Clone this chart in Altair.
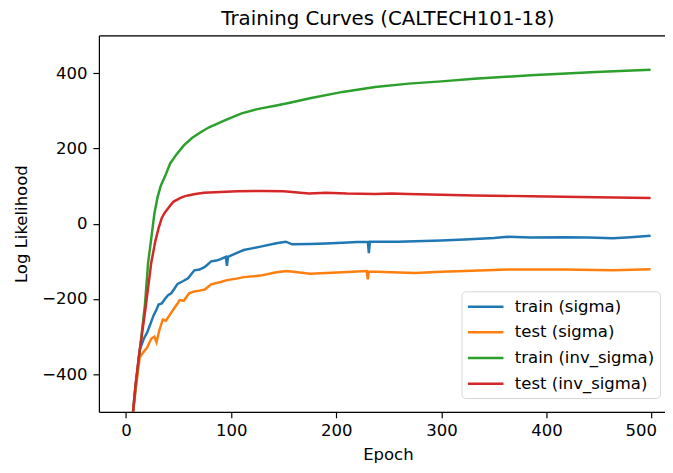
import altair as alt
import pandas as pd

series_names = ["train (sigma)", "test (sigma)", "train (inv_sigma)", "test (inv_sigma)"]
series_colors = ["#1f77b4", "#ff7f0e", "#2ca02c", "#d62728"]

train_sigma_epoch = [6, 9, 13, 17, 20, 23, 26, 29, 31, 34, 37, 40, 43, 46, 49, 54, 59, 65, 70, 75,
                     81, 86, 90, 95, 96, 97, 105, 112, 121, 128, 143, 152, 158, 175, 190, 206, 220,
                     230, 231, 232, 259, 275, 300, 322, 350, 363, 385, 416, 440, 463, 480, 499]
train_sigma_value = [-520, -440, -335, -305, -290, -268, -245, -228, -215, -212, -200, -190, -185,
                     -173, -160, -153, -145, -124, -122, -115, -100, -98, -94, -88, -112, -88, -78,
                     -70, -65, -61, -52, -48, -55, -54, -53, -51, -49, -48, -78, -48, -48, -47, -45,
                     -42, -38, -35, -37, -36, -37, -39, -36, -32]

test_sigma_epoch = [6, 9, 13, 17, 20, 24, 27, 29, 32, 35, 38, 41, 45, 49, 51, 55, 60, 65, 70, 75,
                    81, 90, 96, 105, 112, 121, 128, 143, 153, 175, 206, 229, 230, 231, 275, 300,
                    322, 363, 416, 463, 499]
test_sigma_value = [-520, -445, -355, -340, -330, -306, -300, -315, -280, -255, -258, -245, -228,
                    -212, -203, -205, -185, -180, -178, -175, -161, -155, -150, -146, -142, -140,
                    -138, -129, -126, -133, -129, -126, -148, -127, -131, -128, -126, -122, -122,
                    -124, -121]

train_inv_epoch = [6, 9, 13, 18, 21, 24, 27, 30, 33, 37, 42, 48, 55, 63, 71, 79, 95, 110, 126,
                   143, 157, 175, 206, 237, 269, 300, 331, 385, 447, 499]
train_inv_value = [-520, -430, -340, -215, -104, -40, 27, 70, 100, 125, 160, 184, 208, 228, 243,
                   256, 276, 293, 305, 314, 322, 333, 350, 363, 372, 378, 385, 394, 403, 409]

test_inv_epoch = [6, 9, 12, 18, 24, 28, 31, 34, 37, 41, 45, 50, 54, 59, 66, 74, 90, 106, 130, 150,
                  174, 190, 210, 237, 253, 268, 300, 331, 385, 447, 499]
test_inv_value = [-520, -430, -358, -236, -104, -45, -12, 15, 30, 44, 58, 66, 71, 75, 79, 82, 84,
                  86, 87, 86, 80, 82, 80, 79, 80, 79, 77, 75, 73, 70, 68]

x_ticks = [0, 100, 200, 300, 400, 500]
y_ticks = [-400, -200, 0, 200, 400]

rows = []
for name, ep, val in [
    (series_names[0], train_sigma_epoch, train_sigma_value),
    (series_names[1], test_sigma_epoch, test_sigma_value),
    (series_names[2], train_inv_epoch, train_inv_value),
    (series_names[3], test_inv_epoch, test_inv_value),
]:
    for i, (e, v) in enumerate(zip(ep, val)):
        rows.append({"series": name, "epoch": e, "value": v, "order": i})
df = pd.DataFrame(rows)

FONT = "DejaVu Sans"
xscale = alt.Scale(domain=[-25.8, 512.7], nice=False, zero=False)
yscale = alt.Scale(domain=[-500, 500], nice=False, zero=False)

lines = alt.Chart(df).mark_line(clip=True, strokeWidth=2.5).encode(
    x=alt.X("epoch:Q", scale=xscale,
            axis=alt.Axis(values=x_ticks, title="Epoch", grid=False, domainColor="black",
                          domainWidth=1.2, tickColor="black", tickWidth=1.2, tickSize=6,
                          labelPadding=5, labelFont=FONT, labelFontSize=16.7, labelColor="black",
                          titleFont=FONT, titleFontSize=16.7, titleFontWeight="normal",
                          titleColor="black", titleX=292.5, titleY=48,
                          titleBaseline="alphabetic", labelFlush=20, labelFlushOffset=5)),
    y=alt.Y("value:Q", scale=yscale,
            axis=alt.Axis(values=y_ticks, title="Log Likelihood", grid=False, domainColor="black",
                          domainWidth=1.2, tickColor="black", tickWidth=1.2, tickSize=6,
                          labelPadding=6, labelFont=FONT, labelFontSize=16.7, labelColor="black",
                          titleFont=FONT, titleFontSize=16.7, titleFontWeight="normal",
                          titleColor="black", titleX=-78, titleY=190.5,
                          titleBaseline="middle", labelFlush=False)),
    color=alt.Color("series:N", scale=alt.Scale(domain=series_names, range=series_colors),
                    sort=series_names,
                    legend=alt.Legend(orient="none", legendX=367, legendY=259, title=None,
                                      symbolType="M-1,0H3", symbolSize=324,
                                      symbolStrokeWidth=2.5, symbolFillColor="transparent",
                                      labelFont=FONT, labelFontSize=16.7, labelColor="black",
                                      labelOffset=28, rowPadding=6, padding=5,
                                      fillColor="white", strokeColor="#d5d5d5",
                                      cornerRadius=4, labelLimit=300)),
    order="order:Q",
)

top = alt.Chart(df).mark_line(opacity=0).encode(
    x=alt.X("epoch:Q", scale=xscale,
            axis=alt.Axis(orient="top", labels=False, ticks=False, title=None, grid=False,
                          domainColor="black", domainWidth=1.2)),
    y=alt.Y("value:Q", scale=yscale, axis=None),
    detail="series:N",
)

chart = alt.layer(lines, top).resolve_axis(x="independent", y="independent").properties(
    width=573,
    height=381,
    autosize=alt.AutoSizeParams(type="none"),
    padding={"left": 92, "top": 25, "right": 0, "bottom": 51},
    title=alt.TitleParams(text="Training Curves (CALTECH101-18)", font=FONT, fontSize=20,
                          fontWeight="normal", color="black", anchor="middle", frame="group",
                          dx=6, dy=-3),
).configure_view(stroke=None).configure(background="white")

chart.save("out.html", embed_options={"renderer": "svg", "actions": False})
